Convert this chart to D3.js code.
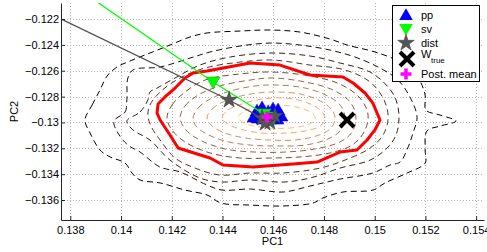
<!DOCTYPE html>
<html><head><meta charset="utf-8">
<script src="https://cdn.jsdelivr.net/npm/d3@7"></script>
<style>body{margin:0;background:#fff}svg{display:block;font-family:"Liberation Sans",Arial,Helvetica,sans-serif}</style>
</head><body><svg id="c" width="487" height="252"></svg>
<script>
// ---------- data ----------
const xDomain = [0.137633, 0.15431];
const yDomain = [-0.137546, -0.12076];
const xTicks = [0.138, 0.140, 0.142, 0.144, 0.146, 0.148, 0.150, 0.152, 0.154];
const xTickLabels = ["0.138", "0.14", "0.142", "0.144", "0.146", "0.148", "0.15", "0.152", "0.154"];
const yTicks = [-0.122, -0.124, -0.126, -0.128, -0.130, -0.132, -0.134, -0.136];
const yTickLabels = ["\u22120.122", "\u22120.124", "\u22120.126", "\u22120.128", "\u22120.13", "\u22120.132", "\u22120.134", "\u22120.136"];
const xLabel = "PC1", yLabel = "PC2";

// dashed density contours, outermost first
const contour1 = [[0.13858,-0.12981],[0.13886,-0.12865],[0.13917,-0.12749],[0.13945,-0.12641],[0.13984,-0.12571],[0.14035,-0.12525],[0.14114,-0.12463],[0.14193,-0.12401],[0.14272,-0.12339],[0.14339,-0.12308],[0.14469,-0.12293],[0.14587,-0.12285],[0.14706,-0.12301],[0.14824,-0.12355],[0.14891,-0.12401],[0.15001,-0.12455],[0.15100,-0.12533],[0.15171,-0.12656],[0.15199,-0.12788],[0.15202,-0.12904],[0.15258,-0.12943],[0.15321,-0.12989],[0.15258,-0.13028],[0.15206,-0.13066],[0.15199,-0.13213],[0.15199,-0.13314],[0.15128,-0.13391],[0.15041,-0.13468],[0.14993,-0.13523],[0.14875,-0.13538],[0.14796,-0.13584],[0.14757,-0.13623],[0.14639,-0.13646],[0.14509,-0.13639],[0.14394,-0.13623],[0.14339,-0.13561],[0.14252,-0.13523],[0.14154,-0.13468],[0.14075,-0.13445],[0.14043,-0.13391],[0.14016,-0.13314],[0.13957,-0.13267],[0.13917,-0.13213],[0.13878,-0.13082]];
const contour2 = [[0.13972,-0.12989],[0.14016,-0.12919],[0.14023,-0.12826],[0.14027,-0.12656],[0.14047,-0.12594],[0.14154,-0.12571],[0.14272,-0.12502],[0.14351,-0.12455],[0.14469,-0.12409],[0.14587,-0.12386],[0.14706,-0.12401],[0.14824,-0.12440],[0.14922,-0.12494],[0.15021,-0.12579],[0.15092,-0.12672],[0.15139,-0.12803],[0.15167,-0.12958],[0.15151,-0.13082],[0.15132,-0.13190],[0.15100,-0.13306],[0.15061,-0.13329],[0.14993,-0.13391],[0.14863,-0.13438],[0.14745,-0.13492],[0.14639,-0.13538],[0.14509,-0.13515],[0.14398,-0.13523],[0.14339,-0.13484],[0.14233,-0.13383],[0.14154,-0.13345],[0.14075,-0.13229],[0.14027,-0.13175],[0.13988,-0.13082]];
const contour3 = [[0.14023,-0.12989],[0.14075,-0.12919],[0.14106,-0.12826],[0.14114,-0.12765],[0.14142,-0.12734],[0.14213,-0.12656],[0.14311,-0.12556],[0.14430,-0.12494],[0.14587,-0.12463],[0.14745,-0.12486],[0.14863,-0.12540],[0.14982,-0.12610],[0.15053,-0.12726],[0.15084,-0.12826],[0.15096,-0.12958],[0.15084,-0.13097],[0.15049,-0.13198],[0.14982,-0.13291],[0.14863,-0.13353],[0.14745,-0.13430],[0.14639,-0.13461],[0.14509,-0.13445],[0.14398,-0.13461],[0.14311,-0.13430],[0.14193,-0.13291],[0.14114,-0.13136],[0.14047,-0.13058]];
const contour4 = [[0.14106,-0.12950],[0.14114,-0.12865],[0.14154,-0.12765],[0.14233,-0.12656],[0.14331,-0.12579],[0.14469,-0.12533],[0.14595,-0.12517],[0.14745,-0.12556],[0.14883,-0.12594],[0.14982,-0.12687],[0.15037,-0.12826],[0.15053,-0.12966],[0.15033,-0.13097],[0.14982,-0.13198],[0.14883,-0.13291],[0.14785,-0.13353],[0.14639,-0.13391],[0.14509,-0.13391],[0.14390,-0.13407],[0.14292,-0.13353],[0.14213,-0.13275],[0.14154,-0.13136],[0.14122,-0.13043]];
const contour5 = [[0.14181,-0.12966],[0.14201,-0.12865],[0.14252,-0.12765],[0.14331,-0.12672],[0.14469,-0.12625],[0.14595,-0.12610],[0.14745,-0.12641],[0.14863,-0.12703],[0.14942,-0.12811],[0.14974,-0.12943],[0.14958,-0.13074],[0.14911,-0.13175],[0.14824,-0.13236],[0.14706,-0.13267],[0.14595,-0.13275],[0.14469,-0.13275],[0.14351,-0.13236],[0.14252,-0.13151],[0.14201,-0.13058]];
const contour6 = [[0.14233,-0.12966],[0.14252,-0.12873],[0.14304,-0.12788],[0.14390,-0.12718],[0.14509,-0.12672],[0.14595,-0.12656],[0.14726,-0.12687],[0.14836,-0.12749],[0.14903,-0.12842],[0.14926,-0.12958],[0.14911,-0.13074],[0.14863,-0.13151],[0.14765,-0.13205],[0.14647,-0.13229],[0.14528,-0.13229],[0.14410,-0.13205],[0.14311,-0.13136],[0.14256,-0.13058]];
const contour7 = [[0.14284,-0.12966],[0.14304,-0.12888],[0.14351,-0.12819],[0.14430,-0.12757],[0.14528,-0.12718],[0.14607,-0.12710],[0.14726,-0.12734],[0.14816,-0.12796],[0.14867,-0.12873],[0.14883,-0.12966],[0.14867,-0.13058],[0.14816,-0.13128],[0.14726,-0.13175],[0.14627,-0.13182],[0.14509,-0.13175],[0.14410,-0.13144],[0.14331,-0.13082],[0.14296,-0.13028]];
const contour8 = [[0.14339,-0.12966],[0.14359,-0.12896],[0.14410,-0.12834],[0.14489,-0.12788],[0.14587,-0.12765],[0.14706,-0.12780],[0.14785,-0.12834],[0.14832,-0.12904],[0.14844,-0.12974],[0.14824,-0.13051],[0.14769,-0.13105],[0.14686,-0.13136],[0.14587,-0.13136],[0.14489,-0.13120],[0.14410,-0.13082],[0.14359,-0.13028]];
const contour9 = [[0.14398,-0.12966],[0.14422,-0.12904],[0.14477,-0.12857],[0.14556,-0.12819],[0.14647,-0.12811],[0.14726,-0.12842],[0.14785,-0.12904],[0.14804,-0.12966],[0.14785,-0.13028],[0.14726,-0.13066],[0.14647,-0.13082],[0.14556,-0.13082],[0.14469,-0.13051],[0.14422,-0.13012]];
const contour10 = [[0.14461,-0.12958],[0.14489,-0.12912],[0.14548,-0.12873],[0.14627,-0.12865],[0.14706,-0.12888],[0.14757,-0.12935],[0.14765,-0.12981],[0.14733,-0.13020],[0.14666,-0.13043],[0.14580,-0.13043],[0.14509,-0.13020],[0.14473,-0.12989]];
const contourLevelsT = [0.0, 0.08, 0.17, 0.27, 0.38, 0.49, 0.6, 0.71, 0.82, 0.93];

// red credible-region contour
const redContour = [[0.14142,-0.12927],[0.14146,-0.12857],[0.14173,-0.12803],[0.14213,-0.12734],[0.14252,-0.12656],[0.14284,-0.12618],[0.14339,-0.12602],[0.14509,-0.12540],[0.14627,-0.12556],[0.14745,-0.12633],[0.14875,-0.12649],[0.14915,-0.12695],[0.14962,-0.12772],[0.14993,-0.12850],[0.15021,-0.12981],[0.15001,-0.13058],[0.14970,-0.13136],[0.14930,-0.13213],[0.14863,-0.13229],[0.14773,-0.13306],[0.14678,-0.13322],[0.14520,-0.13345],[0.14402,-0.13329],[0.14351,-0.13275],[0.14225,-0.13198],[0.14193,-0.13097],[0.14154,-0.12981]];

// estimates
const ppPoints = [[0.14524,-0.12958],[0.14536,-0.12912],[0.14556,-0.12888],[0.14580,-0.12919],[0.14599,-0.12896],[0.14619,-0.12904],[0.14631,-0.12950],[0.14615,-0.12974],[0.14587,-0.12974],[0.14560,-0.12974],[0.14540,-0.12966],[0.14572,-0.12950]];
const svPath = [[0.13800,-0.11925],[0.14363,-0.12687],[0.14564,-0.12935],[0.14587,-0.12958],[0.14576,-0.12989],[0.14599,-0.12974]];
const distPath = [[0.13700,-0.12140],[0.14426,-0.12826],[0.14556,-0.12966],[0.14587,-0.12997],[0.14607,-0.12950],[0.14568,-0.13005]];
const wTrue = [[0.14891,-0.12981]];
const postMean = [[0.14576,-0.12958]];
const legendLabels = ["pp", "sv", "dist", "W", "Post. mean"];

// ---------- layout ----------
const svg = d3.select("#c");
const L = 61, T = 3, R = 484, B = 220;
const x = d3.scaleLinear().domain(xDomain).range([L, R]);
const y = d3.scaleLinear().domain(yDomain).range([B, T]);

svg.append("defs").append("clipPath").attr("id","clip")
  .append("rect").attr("x",L).attr("y",T).attr("width",R-L).attr("height",B-T);

// grid
const grid = svg.append("g");
grid.selectAll("line.gx").data(xTicks).join("line")
  .attr("x1",d=>Math.round(x(d))+0.5).attr("x2",d=>Math.round(x(d))+0.5)
  .attr("y1",T).attr("y2",B)
  .attr("stroke","#b4b4b4").attr("stroke-dasharray","1,2");
grid.selectAll("line.gy").data(yTicks).join("line")
  .attr("y1",d=>Math.round(y(d))+0.5).attr("y2",d=>Math.round(y(d))+0.5)
  .attr("x1",L).attr("x2",R)
  .attr("stroke","#b4b4b4").attr("stroke-dasharray","1,2");

const plot = svg.append("g").attr("clip-path","url(#clip)");
const closed = d3.line().x(d=>x(d[0])).y(d=>y(d[1])).curve(d3.curveCatmullRomClosed.alpha(0.5));
const copper = t => d3.rgb(255*Math.min(1,1.25*t), 255*0.7812*t, 255*0.4975*t).toString();
const contours = [contour1,contour2,contour3,contour4,contour5,contour6,contour7,contour8,contour9,contour10];
plot.selectAll("path.ct").data(contours).join("path")
  .attr("d",closed).attr("fill","none")
  .attr("stroke",(d,i)=>copper(contourLevelsT[i]))
  .attr("stroke-width",1).attr("stroke-dasharray","6,4");

plot.append("path").datum(redContour)
  .attr("d",d3.line().x(d=>x(d[0])).y(d=>y(d[1])).curve(d3.curveLinearClosed))
  .attr("fill","none").attr("stroke","#ff0000").attr("stroke-width",3).attr("stroke-linejoin","round");

const openLine = d3.line().x(d=>x(d[0])).y(d=>y(d[1]));
const triUp = d3.symbol().type(d3.symbolTriangle).size(80);
const star = d3.symbol().type(d3.symbolStar).size(85);

// pp markers
plot.selectAll("path.pp").data(ppPoints).join("path")
  .attr("d",triUp).attr("transform",d=>`translate(${x(d[0])},${y(d[1])+1})`)
  .attr("fill","#0000ff").attr("stroke","#0000e0").attr("stroke-width",0.6);

// sv path + markers
plot.append("path").datum(svPath).attr("d",openLine)
  .attr("fill","none").attr("stroke","#00ff00").attr("stroke-width",1.3);
plot.selectAll("path.sv").data(svPath).join("path")
  .attr("d",triUp).attr("transform",d=>`translate(${x(d[0])},${y(d[1])-1}) rotate(180)`)
  .attr("fill","#00ff00").attr("stroke","#00c000").attr("stroke-width",0.6);

// dist path + markers
plot.append("path").datum(distPath).attr("d",openLine)
  .attr("fill","none").attr("stroke","#505050").attr("stroke-width",1.3);
plot.selectAll("path.di").data(distPath).join("path")
  .attr("d",star).attr("transform",d=>`translate(${x(d[0])},${y(d[1])})`)
  .attr("fill","#555555").attr("stroke","#404040").attr("stroke-width",0.6);

// W true
const drawX = (g, cx, cy, r, w) => {
  g.append("line").attr("x1",cx-r).attr("y1",cy-r).attr("x2",cx+r).attr("y2",cy+r).attr("stroke","#000").attr("stroke-width",w);
  g.append("line").attr("x1",cx-r).attr("y1",cy+r).attr("x2",cx+r).attr("y2",cy-r).attr("stroke","#000").attr("stroke-width",w);
};
const drawPlus = (g, cx, cy, r, w) => {
  g.append("line").attr("x1",cx-r).attr("y1",cy).attr("x2",cx+r).attr("y2",cy).attr("stroke","#ff00ff").attr("stroke-width",w);
  g.append("line").attr("x1",cx).attr("y1",cy-r).attr("x2",cx).attr("y2",cy+r).attr("stroke","#ff00ff").attr("stroke-width",w);
};
wTrue.forEach(d=>drawX(plot, x(d[0]), y(d[1]), 7, 4));
postMean.forEach(d=>drawPlus(plot, x(d[0]), y(d[1]), 5.5, 3.5));

// axes
const ax = svg.append("g").attr("transform",`translate(0,${B})`)
  .call(d3.axisBottom(x).tickValues(xTicks).tickFormat((d,i)=>xTickLabels[i]).tickSize(-4).tickSizeOuter(0).tickPadding(6));
const ay = svg.append("g").attr("transform",`translate(${L},0)`)
  .call(d3.axisLeft(y).tickValues(yTicks).tickFormat((d,i)=>yTickLabels[i]).tickSize(-4).tickSizeOuter(0).tickPadding(2));
[ax,ay].forEach(a=>{
  a.selectAll("text").attr("font-size",11).attr("fill","#000").attr("font-family",'"Liberation Sans",Arial,sans-serif');
  a.select(".domain").attr("stroke","#262626");
  a.selectAll(".tick line").attr("stroke","#262626");
});
svg.append("text").attr("x",(L+R)/2).attr("y",245).attr("text-anchor","middle").attr("font-size",11).text(xLabel);
svg.append("text").attr("transform",`translate(18,${(T+B)/2}) rotate(-90)`).attr("text-anchor","middle").attr("font-size",11).text(yLabel);

// legend
const lg = svg.append("g");
lg.append("rect").attr("x",392.5).attr("y",5.5).attr("width",87).attr("height",76).attr("fill","#fff").attr("stroke","#000");
const mx = 406, tx = 421, rows = [15, 29, 43, 59, 74];
lg.append("path").attr("d",triUp).attr("transform",`translate(${mx},${rows[0]+1})`).attr("fill","#0000ff");
lg.append("path").attr("d",triUp).attr("transform",`translate(${mx},${rows[1]-1}) rotate(180)`).attr("fill","#00ff00");
lg.append("path").attr("d",star).attr("transform",`translate(${mx},${rows[2]})`).attr("fill","#555555").attr("stroke","#404040").attr("stroke-width",0.6);
drawX(lg, mx+1, rows[3], 7, 4);
drawPlus(lg, mx, rows[4], 5.5, 3.5);
[0,1,2].forEach(i=>lg.append("text").attr("x",tx).attr("y",rows[i]+4).attr("font-size",11).text(legendLabels[i]));
const wt = lg.append("text").attr("x",tx).attr("y",rows[3]-1.5).attr("font-size",11).text(legendLabels[3]);
lg.append("text").attr("x",tx+10).attr("y",rows[3]+4).attr("font-size",8).text("true");
lg.append("text").attr("x",tx).attr("y",rows[4]+4).attr("font-size",11).text(legendLabels[4]);
</script></body></html>
